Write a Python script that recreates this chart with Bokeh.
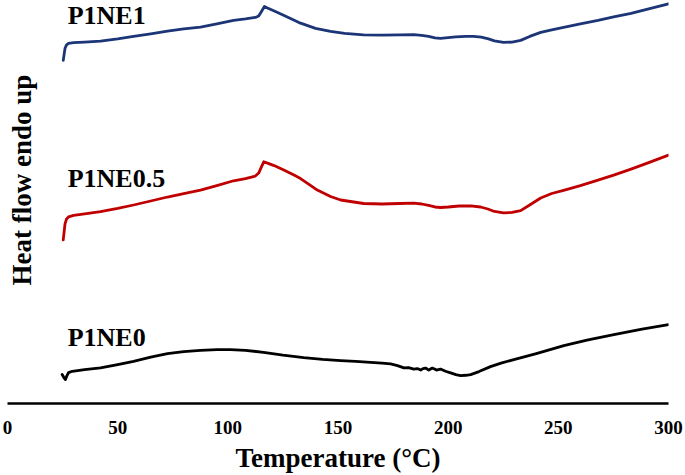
import math
from bokeh.plotting import figure
from bokeh.models import Range1d, FixedTicker, Label
from bokeh.core.properties import value
from bokeh.embed import file_html
from bokeh.resources import INLINE

# ---- data (heat flow in arbitrary units, offset curves) ----
temp_ticks = [0, 50, 100, 150, 200, 250, 300]

t_p1ne1 = [25.3, 25.7, 26.1, 26.8, 27.7, 30, 35, 42.2, 50, 57.2, 65, 72.6, 80, 87.6, 95,
           102.6, 108, 112.5, 114, 115, 116.6, 118, 121.6, 127, 133, 139.8, 146.6, 153,
           161.6, 170, 178, 184.3, 188, 191.1, 194, 196.5, 200, 203.4, 208, 211.5, 215,
           218.3, 221, 225.1, 229, 232.9, 237, 242, 247, 252.4, 260, 268, 275.1, 283, 291, 300]
hf_p1ne1 = [344, 350, 356, 359.5, 361, 361.7, 362.3, 363.3, 365.5, 368, 370.5, 373.3, 375.5,
            377.3, 380.5, 384, 385.5, 387, 388.5, 392, 398, 396.5, 393, 387.5, 381.3, 376,
            373, 371, 369.5, 369.2, 369.5, 369.8, 369, 368, 366.5, 366, 366.8, 367.5, 368,
            368, 367.3, 365.5, 363.5, 362, 362.3, 364, 368, 372, 374.5, 377, 380.5, 384,
            387.5, 391, 395.5, 400.7]

t_p1ne05 = [25.3, 25.7, 26.1, 26.8, 27.7, 30, 35, 42.2, 50, 57.2, 65, 72.6, 80, 87.6, 95,
            102.6, 108, 112.5, 114, 115, 116.3, 118, 121, 125.4, 130, 133, 137, 140.6, 146.6,
            151.2, 161.6, 170, 178, 184.3, 188, 191.1, 194, 196.5, 200, 205, 210.2, 214.7,
            218, 221, 225.1, 229, 232.9, 237, 242, 247, 252.4, 260, 268, 275.1, 283, 291, 300]
hf_p1ne05 = [164, 172, 180, 185, 187, 188.5, 190, 192.3, 195.5, 199, 203, 207, 210.5, 214,
             218.5, 223.3, 225.5, 228, 231, 236, 242.3, 241, 238.5, 234, 229, 225.5, 219.5,
             214, 207.5, 204, 200.5, 200, 200.5, 200.8, 200, 198.5, 197, 196.5, 197, 198,
             198.2, 197, 195, 192.5, 191, 191.5, 193.3, 199, 206, 210.5, 213.7, 218.5, 224,
             229, 235, 241.5, 249]

t_p1ne0 = [24.8, 25.6, 26.3, 27.0, 27.7, 29.4, 35, 42.2, 50, 57.2, 65, 72.6, 80, 87.6, 95,
           101.2, 108, 116.2, 125, 134.4, 143, 151.2, 158, 164.8, 170, 173.9, 177, 179.9,
           182, 184.4, 186, 187.5, 188.6, 189.7, 190.5, 191.2, 192, 192.8, 193.8, 194.7,
           196.5, 198.8, 201.1, 203.5, 205.6, 208, 210.2, 214, 219.2, 224, 229.8, 240,
           252.5, 263, 275.2, 288, 300]
hf_p1ne0 = [29, 26, 24, 28, 31, 32.3, 34, 35.7, 39, 42.3, 46.5, 50, 52, 53.3, 54, 54, 53.3,
            51.3, 48.5, 46, 44.2, 43, 42.2, 41.3, 40.5, 39.7, 38, 35.7, 36, 34.5, 35, 33.5,
            35, 35.5, 34.5, 33.5, 34.5, 35.5, 34.5, 33.5, 34.5, 32.3, 30.7, 29, 28, 28.3,
            29, 32, 37, 40.5, 44, 50, 58, 63.5, 69, 74.5, 79]

series_names = ["P1NE1", "P1NE0.5", "P1NE0"]
series_colors = ["#1c3577", "#c00000", "#000000"]
label_x = [27.3, 27.3, 27.3]
label_y = [388.5, 225.5, 66.5]

FONT = "Liberation Serif"

p = figure(width=685, height=475, output_backend="svg", toolbar_location=None,
           x_range=Range1d(0, 300), y_range=Range1d(0, 404),
           y_axis_location=None,
           min_border_left=7, min_border_right=17, min_border_top=0, min_border_bottom=71)
p.outline_line_color = None
p.xgrid.visible = False
p.ygrid.visible = False
p.background_fill_color = "white"
p.border_fill_color = "white"

for t, hf, c in zip([t_p1ne1, t_p1ne05, t_p1ne0], [hf_p1ne1, hf_p1ne05, hf_p1ne0], series_colors):
    p.line(t, hf, line_color=c, line_width=2.8, line_join="round", line_cap="round")

p.text(x=label_x, y=label_y, text=series_names, text_font=value(FONT),
       text_font_style="bold", text_font_size="26px", text_color="black",
       text_align="left", text_baseline="alphabetic")

ax = p.xaxis[0]
ax.ticker = FixedTicker(ticks=temp_ticks)
ax.axis_line_width = 2.5
ax.axis_line_color = "black"
ax.major_tick_line_color = None
ax.minor_tick_line_color = None
ax.major_tick_out = 0
ax.major_tick_in = 0
ax.major_label_text_font = FONT
ax.major_label_text_font_style = "bold"
ax.major_label_text_font_size = "19px"
ax.major_label_text_color = "black"
ax.major_label_standoff = 17
ax.axis_label = "Temperature (°C)"
ax.axis_label_text_font = FONT
ax.axis_label_text_font_style = "bold"
ax.axis_label_text_font_size = "27px"
ax.axis_label_text_color = "black"
ax.axis_label_standoff = 6

ylab = Label(x=6.6, y=224, text="Heat flow endo up", angle=math.pi / 2,
             text_font=FONT, text_font_style="bold", text_font_size="27px",
             text_color="black", text_align="center", text_baseline="alphabetic")
p.add_layout(ylab)

open("out.html", "w").write(file_html(p, INLINE))
